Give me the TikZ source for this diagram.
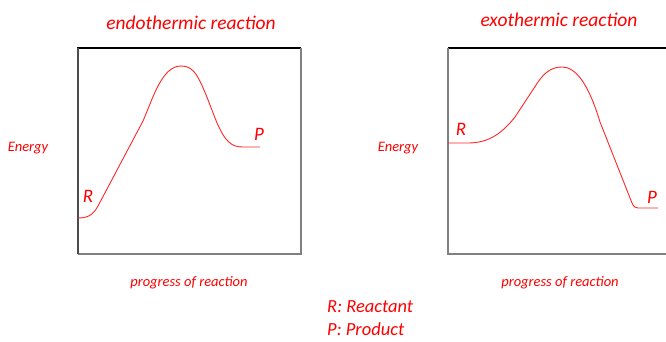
\documentclass[tikz,border=0pt]{standalone}
\usepackage{fontspec}
\setmainfont{Carlito}
\begin{document}
\begin{tikzpicture}[x=1pt,y=-1pt,
  lbl/.style={text=red,font=\itshape,inner sep=0pt},
  title/.style={lbl,font=\itshape\fontsize{19.5}{22}\selectfont},
  small/.style={lbl,font=\itshape\fontsize{14.5}{16}\selectfont},
  rp/.style={lbl,font=\itshape\fontsize{19}{21}\selectfont},
  legend/.style={lbl,font=\itshape\fontsize{18.5}{21}\selectfont,anchor=west},
  topedge/.style={black,line width=1.2pt},
  sideedge/.style={gray,line width=1.5pt},
  curve/.style={red!85!white,line width=0.9pt}]
\useasboundingbox (0,0) rectangle (666,341);
% left box
\draw[topedge] (77,48) -- (301,48);
\draw[sideedge] (301,48) -- (301,254) -- (78,254);
\draw[black!70,line width=1.4pt] (78,48) -- (78,254);
% right box
\draw[topedge] (448,48) -- (666,48);
\draw[sideedge] (448,48) -- (448,254) -- (666,254);
% curves
\draw[curve] (78,218) .. controls (90,218) and (94,213) .. (98,206) -- (143,121)
  .. controls (153,98) and (162,66) .. (181,66)
  .. controls (195,66) and (199,76) .. (215,118)
  .. controls (225,143) and (232,147) .. (243,147) -- (260,147);
\draw[curve] (448,143) -- (468,143) .. controls (490,143) and (503,132) .. (515,117) -- (538,82)
  .. controls (545,72) and (552,67) .. (562,67)
  .. controls (575,67) and (588,82) .. (600,122) -- (632,203)
  .. controls (634,207) and (635,208) .. (638,208) -- (658,208);
% texts
\node[title] (t1) at (191,23) {endothermic reaction};
\node[title] (t2) at (559,20) {exothermic reaction};
\node[small] (e1) at (28,148) {Energy};
\node[small] (e2) at (398,148) {Energy};
\node[small] (p1) at (189,283) {progress of reaction};
\node[small] (p2) at (560,283) {progress of reaction};
\node[rp] (r1) at (88,196) {R};
\node[rp] (pp1) at (259,134) {P};
\node[rp] (r2) at (461,129) {R};
\node[rp] (pp2) at (652,197) {P};
\node[legend] (l1) at (327,307) {R: Reactant};
\node[legend] (l2) at (327,329.5) {P: Product};
\end{tikzpicture}
\end{document}
